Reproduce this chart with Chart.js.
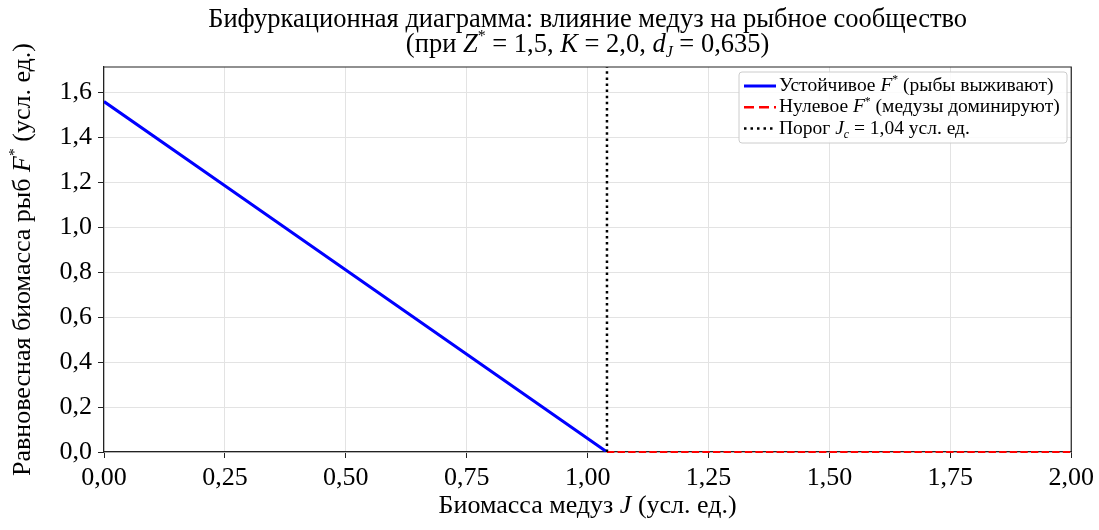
<!DOCTYPE html>
<html><head><meta charset="utf-8">
<script src="https://cdn.jsdelivr.net/npm/chart.js@4.4.0/dist/chart.umd.min.js"></script>
<style>html,body{margin:0;padding:0;background:#fff}#wrap{width:1099px;height:530px;position:relative}</style>
</head><body><div id="wrap"><canvas id="c" width="1099" height="530" style="width:1099px;height:530px"></canvas></div>
<script>
// ---- data ----
const stableJ = [0, 0.25, 0.5, 0.75, 1.0, 1.04];
const stableF = [1.56, 1.185, 0.81, 0.435, 0.06, 0.0];
const zeroJ = [1.04, 1.25, 1.5, 1.75, 2.0];
const zeroF = [0, 0, 0, 0, 0];
const thresholdJ = [1.04, 1.04];
const thresholdF = [0, 1.714];
const xTicks = [0, 0.25, 0.5, 0.75, 1.0, 1.25, 1.5, 1.75, 2.0];
const yTicks = [0, 0.2, 0.4, 0.6, 0.8, 1.0, 1.2, 1.4, 1.6];
const xRange = [0, 2.0];
const yRange = [0, 1.714];

const FONT = '"Liberation Serif","Times New Roman",serif';
const FS = 26;

function pts(xs, ys) { return xs.map((x, i) => ({x: x, y: ys[i]})); }

function richWidth(ctx, segs, size) {
  let w = 0;
  segs.forEach(s => {
    const sz = (s.sup || s.sub) ? size * 0.6 : size;
    ctx.font = (s.i ? 'italic ' : '') + sz + 'px ' + FONT;
    w += ctx.measureText(s.t).width;
  });
  return w;
}
function drawRich(ctx, segs, x, y, size, align) {
  const w = richWidth(ctx, segs, size);
  let cx = align === 'center' ? x - w / 2 : (align === 'right' ? x - w : x);
  ctx.textBaseline = 'middle';
  ctx.textAlign = 'left';
  ctx.fillStyle = '#000';
  segs.forEach(s => {
    const sz = (s.sup || s.sub) ? size * 0.6 : size;
    ctx.font = (s.i ? 'italic ' : '') + sz + 'px ' + FONT;
    let dy = 0;
    if (s.sup) dy = -size * 0.3;
    if (s.sub) dy = size * 0.3;
    ctx.fillText(s.t, cx, y + dy);
    cx += ctx.measureText(s.t).width;
  });
}

const titleLine1 = [{t: 'Бифуркационная диаграмма: влияние медуз на рыбное сообщество'}];
const titleLine2 = [{t: '(при '}, {t: 'Z', i: 1}, {t: '*', sup: 1}, {t: ' = 1,5, '}, {t: 'K', i: 1}, {t: ' = 2,0, '}, {t: 'd', i: 1}, {t: 'J', i: 1, sub: 1}, {t: ' = 0,635)'}];
const xTitle = [{t: 'Биомасса медуз '}, {t: 'J', i: 1}, {t: ' (усл. ед.)'}];
const yTitle = [{t: 'Равновесная биомасса рыб '}, {t: 'F', i: 1}, {t: '*', sup: 1}, {t: ' (усл. ед.)'}];
const legendItems = [
  {segs: [{t: 'Устойчивое '}, {t: 'F', i: 1}, {t: '*', sup: 1}, {t: ' (рыбы выживают)'}], color: '#0000ff', width: 3, dash: []},
  {segs: [{t: 'Нулевое '}, {t: 'F', i: 1}, {t: '*', sup: 1}, {t: ' (медузы доминируют)'}], color: '#ff0000', width: 2.5, dash: [10, 5]},
  {segs: [{t: 'Порог '}, {t: 'J', i: 1}, {t: 'c', i: 1, sub: 1}, {t: ' = 1,04 усл. ед.'}], color: '#000000', width: 2.5, dash: [2.5, 4]}
];

const decor = {
  id: 'decor',
  afterDatasetsDraw(chart) {
    const ctx = chart.ctx, a = chart.chartArea;
    ctx.save();
    ctx.strokeStyle = '#222';
    ctx.lineWidth = 1.2;
    ctx.beginPath();
    ctx.moveTo(a.left, a.top);
    ctx.lineTo(a.right, a.top);
    ctx.lineTo(a.right, a.bottom);
    ctx.stroke();
    const cx = (a.left + a.right) / 2;
    drawRich(ctx, titleLine1, cx, 20, 26.5, 'center');
    drawRich(ctx, titleLine2, cx, 45, 26.5, 'center');
    drawRich(ctx, xTitle, cx, 506, FS, 'center');
    ctx.save();
    ctx.translate(23, (a.top + a.bottom) / 2);
    ctx.rotate(-Math.PI / 2);
    drawRich(ctx, yTitle, 0, 0, FS, 'center');
    ctx.restore();
    const lx = 739, ly = 72, lw = 328, lh = 71;
    ctx.beginPath();
    if (ctx.roundRect) ctx.roundRect(lx, ly, lw, lh, 3); else ctx.rect(lx, ly, lw, lh);
    ctx.fillStyle = 'rgba(255,255,255,0.85)';
    ctx.fill();
    ctx.strokeStyle = '#cccccc';
    ctx.lineWidth = 1;
    ctx.stroke();
    legendItems.forEach((it, k) => {
      const yy = 86 + k * 21.3;
      ctx.beginPath();
      ctx.setLineDash(it.dash);
      ctx.strokeStyle = it.color;
      ctx.lineWidth = it.width;
      ctx.moveTo(744, yy);
      ctx.lineTo(776, yy);
      ctx.stroke();
      ctx.setLineDash([]);
      drawRich(ctx, it.segs, 779, yy, 19.5, 'left');
    });
    ctx.restore();
  }
};

new Chart(document.getElementById('c'), {
  type: 'scatter',
  data: {
    datasets: [
      {label: 'Устойчивое F*', data: pts(stableJ, stableF), showLine: true, borderColor: '#0000ff', borderWidth: 3, pointRadius: 0, order: 2},
      {label: 'Нулевое F*', data: pts(zeroJ, zeroF), showLine: true, borderColor: '#ff0000', borderWidth: 2, borderDash: [7.4, 3.2], pointRadius: 0, order: 1, clip: 4},
      {label: 'Порог Jc', data: pts(thresholdJ, thresholdF), showLine: true, borderColor: '#000000', borderWidth: 2.5, borderDash: [2.5, 3.6], pointRadius: 0, order: 0}
    ]
  },
  options: {
    responsive: false,
    animation: false,
    devicePixelRatio: 1,
    layout: {padding: {left: 0, right: 26, top: 67, bottom: 0}},
    plugins: {legend: {display: false}, title: {display: false}, tooltip: {enabled: false}},
    scales: {
      x: {
        type: 'linear', min: xRange[0], max: xRange[1],
        afterBuildTicks: s => { s.ticks = xTicks.map(v => ({value: v})); },
        afterFit: s => { s.height = 78; },
        ticks: {color: '#000', font: {family: FONT, size: FS}, padding: 5, maxRotation: 0,
          callback: v => v.toFixed(2).replace('.', ',')},
        grid: {color: '#e3e3e3', tickColor: '#222', tickLength: 6, lineWidth: 1},
        border: {color: '#222', width: 1.2}
      },
      y: {
        type: 'linear', min: yRange[0], max: yRange[1],
        afterBuildTicks: s => { s.ticks = yTicks.map(v => ({value: v})); },
        afterFit: s => { s.width = 104; },
        ticks: {color: '#000', font: {family: FONT, size: FS}, padding: 6,
          callback: v => v.toFixed(1).replace('.', ',')},
        grid: {color: '#e3e3e3', tickColor: '#222', tickLength: 6, lineWidth: 1},
        border: {color: '#222', width: 1.2}
      }
    }
  },
  plugins: [decor]
});
</script>
</body></html>
